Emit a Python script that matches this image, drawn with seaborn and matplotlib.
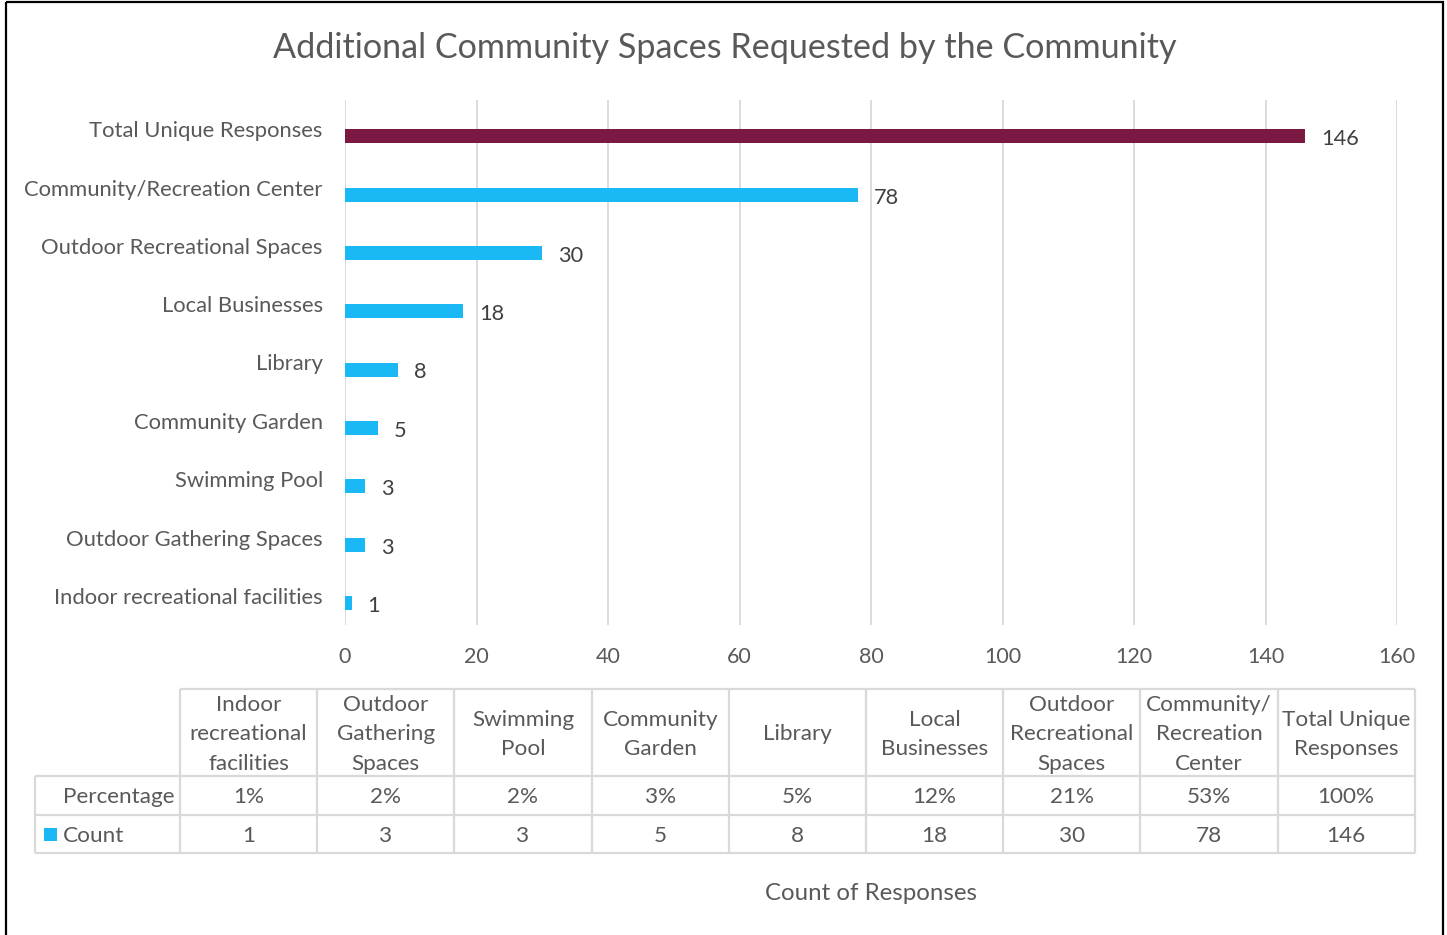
import matplotlib
matplotlib.use("Agg")
import matplotlib.pyplot as plt
import matplotlib.transforms as mtransforms
from matplotlib.patches import Rectangle
import pandas as pd
import seaborn as sns

# Survey results: requested community spaces (top = overall total)
categories = [
    "Total Unique Responses",
    "Community/Recreation Center",
    "Outdoor Recreational Spaces",
    "Local Businesses",
    "Library",
    "Community Garden",
    "Swimming Pool",
    "Outdoor Gathering Spaces",
    "Indoor recreational facilities",
]
counts = [146, 78, 30, 18, 8, 5, 3, 3, 1]

# Data table beneath the chart (ascending order)
table_headers = [
    "Indoor\nrecreational\nfacilities",
    "Outdoor\nGathering\nSpaces",
    "Swimming\nPool",
    "Community\nGarden",
    "Library",
    "Local\nBusinesses",
    "Outdoor\nRecreational\nSpaces",
    "Community/\nRecreation\nCenter",
    "Total Unique\nResponses",
]
table_percentages = ["1%", "2%", "2%", "3%", "5%", "12%", "21%", "53%", "100%"]
table_counts = [1, 3, 3, 5, 8, 18, 30, 78, 146]
row_labels = ["Percentage", "Count"]

x_ticks = [0, 20, 40, 60, 80, 100, 120, 140, 160]

TOTAL_COLOR = "#7B1942"
COUNT_COLOR = "#1AB8F5"
TEXT_COLOR = "#595959"
LABEL_COLOR = "#404040"
GRID_COLOR = "#D9D9D9"

sns.set_theme(style="white")
plt.rcParams["font.family"] = ["Lato", "DejaVu Sans"]

W, H, DPI = 1447, 935, 100
fig = plt.figure(figsize=(W / DPI, H / DPI), dpi=DPI)
fig.patch.set_facecolor("white")

# Main bar axes (pixel box converted to figure fractions)
ax_l, ax_r, ax_t, ax_b = 345, 1397, 100, 625
ax = fig.add_axes([ax_l / W, 1 - ax_b / H, (ax_r - ax_l) / W, (ax_b - ax_t) / H])

# Bars sit slightly below each category centre
bar_shift = 0.12
df = pd.DataFrame({
    "category": categories,
    "count": counts,
    "pos": [i + bar_shift for i in range(len(categories))],
})
palette = {c: (TOTAL_COLOR if i == 0 else COUNT_COLOR) for i, c in enumerate(categories)}

sns.barplot(
    data=df, x="count", y="pos", hue="category", palette=palette,
    orient="h", native_scale=True, dodge=False, width=0.24,
    legend=False, saturation=1, linewidth=0, ax=ax,
)

ax.set_ylim(len(categories) - 0.5, -0.5)
ax.set_xlim(0, 160)
ax.set_xticks(x_ticks)
ax.set_xticklabels([str(t) for t in x_ticks])
ax.set_yticks(range(len(categories)))
ax.set_yticklabels(categories)
ax.set_xlabel("")
ax.set_ylabel("")
for s in ax.spines.values():
    s.set_visible(False)
ax.grid(axis="x", color=GRID_COLOR, linewidth=1.3)
ax.grid(axis="y", visible=False)
ax.set_axisbelow(True)
ax.tick_params(axis="x", length=0, pad=16, labelsize=15.5, labelcolor=TEXT_COLOR)
ax.tick_params(axis="y", length=0, pad=16, labelsize=15.8, labelcolor=TEXT_COLOR)

# Value labels to the right of each bar
lbl_offset = mtransforms.offset_copy(ax.transData, fig=fig, x=16, y=-3, units="dots")
for i, v in enumerate(counts):
    ax.text(v, i + bar_shift, str(v), transform=lbl_offset, ha="left", va="center",
            fontsize=15.7, color=LABEL_COLOR)

# Overlay axes in pixel coordinates for title, table and frame
ov = fig.add_axes([0, 0, 1, 1], zorder=-1)
ov.set_xlim(0, W)
ov.set_ylim(H, 0)
ov.axis("off")

ov.text(725, 48.5, "Additional Community Spaces Requested by the Community",
        ha="center", va="center", fontsize=24.6, color=TEXT_COLOR)

# Data table
col_x0, col_w, ncol = 180, 137.2, len(table_headers)
lab_x0 = 35
row_y = [689, 776, 815, 853]
x_end = col_x0 + col_w * ncol
lc, lw = GRID_COLOR, 1.6
ov.hlines(row_y[0], col_x0, x_end, color=lc, lw=lw)
for y in row_y[1:]:
    ov.hlines(y, lab_x0, x_end, color=lc, lw=lw)
ov.vlines(lab_x0, row_y[1], row_y[3], color=lc, lw=lw)
for j in range(ncol + 1):
    ov.vlines(col_x0 + j * col_w, row_y[0], row_y[3], color=lc, lw=lw)

tfs = 16.2
for j, (hdr, pct, cnt) in enumerate(zip(table_headers, table_percentages, table_counts)):
    cx = col_x0 + (j + 0.5) * col_w
    ov.text(cx, (row_y[0] + row_y[1]) / 2 + 2, hdr, ha="center", va="center",
            fontsize=tfs, color=TEXT_COLOR, linespacing=1.58)
    ov.text(cx, (row_y[1] + row_y[2]) / 2 + 1.5, pct, ha="center", va="center",
            fontsize=tfs, color=TEXT_COLOR)
    ov.text(cx, (row_y[2] + row_y[3]) / 2 + 1.5, str(cnt), ha="center", va="center",
            fontsize=tfs, color=TEXT_COLOR)

ov.text(63, (row_y[1] + row_y[2]) / 2 + 1.5, row_labels[0], ha="left", va="center",
        fontsize=tfs, color=TEXT_COLOR)
ov.text(63, (row_y[2] + row_y[3]) / 2 + 1.5, row_labels[1], ha="left", va="center",
        fontsize=tfs, color=TEXT_COLOR)
ov.add_patch(Rectangle((44, 828), 13, 13, facecolor=COUNT_COLOR, edgecolor="none"))

ov.text(871, 893.5, "Count of Responses", ha="center", va="center",
        fontsize=17.3, color=TEXT_COLOR)

# Outer frame
ov.add_patch(Rectangle((6, 2), 1437, 960, facecolor="none", edgecolor="black", lw=1.6))

fig.savefig("out.png", dpi=DPI, facecolor="white")
